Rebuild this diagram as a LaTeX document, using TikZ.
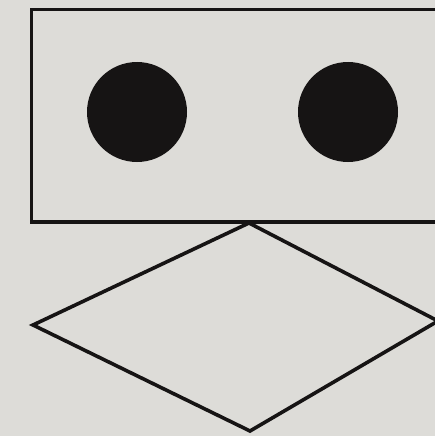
\documentclass[tikz,border=0pt]{standalone}
\definecolor{paper}{RGB}{221,220,216}
\definecolor{ink}{RGB}{22,20,20}
\tikzset{outline/.style={draw=ink,line width=3.6pt,line join=miter},
  dot/.style={fill=ink}}
\begin{document}
\begin{tikzpicture}[x=1pt,y=-1pt]
\fill[paper] (0,0) rectangle (435,436);
\useasboundingbox (0,0) rectangle (435,436);
\begin{scope}
\clip (0,0) rectangle (435,436);
% rectangle
\draw[outline] (445,9.5) -- (31.5,9.5) -- (31.5,222) -- (445,222);
% dots
\fill[dot] (137,112) circle (50);
\fill[dot] (348,112) circle (50);
% diamond
\coordinate (T) at (249,223);
\coordinate (L) at (33,325);
\coordinate (B) at (250,431);
\coordinate (R) at (438,321);
\draw[outline] (T) -- (L) -- (B) -- (R) -- cycle;
\end{scope}
\end{tikzpicture}
\end{document}
